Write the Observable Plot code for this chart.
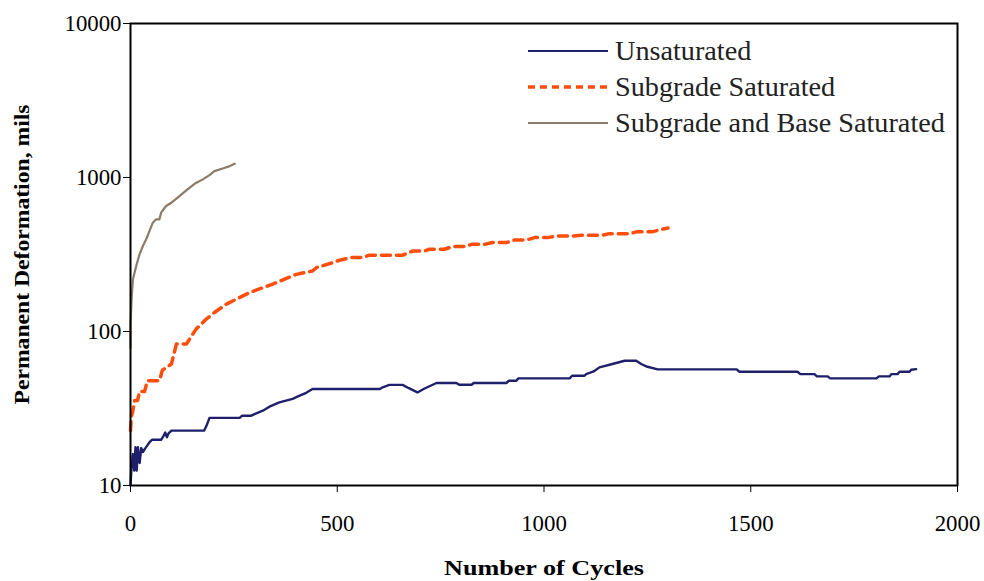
<!DOCTYPE html>
<html>
<head>
<meta charset="utf-8">
<script src="https://cdn.jsdelivr.net/npm/d3@7"></script>
<script src="https://cdn.jsdelivr.net/npm/@observablehq/plot@0.6"></script>
<style>
  html, body { margin: 0; padding: 0; background: #fff; }
  #wrap { position: relative; width: 984px; height: 581px; }
  #legend { position: absolute; left: 528px; top: 33px; font-family: "Liberation Serif", serif; font-size: 27px; color: #222; }
  #legend .row { display: flex; align-items: center; height: 36px; }
  #legend svg { margin-right: 7px; }
  #legend span { display: inline-block; transform-origin: left center; transform: scaleX(1.045); }
</style>
</head>
<body>
<div id="wrap"><div id="chart"></div><div id="legend"></div></div>
<script>
// ---- data ----
const seriesNames = ["Unsaturated", "Subgrade Saturated", "Subgrade and Base Saturated"];
const seriesColors = ["#1f1f6b", "#ff4d0a", "#8c7b68"];

const unsatCycles = [0,3,6,9,12,15,18,22,26,30,36,46,52,74,80,84,88,92,99,178,184,191,264,270,292,300,320,336,360,392,409,425,440,603,610,626,658,672,694,710,740,788,795,825,830,909,915,933,938,1062,1068,1098,1102,1120,1134,1170,1195,1223,1235,1250,1275,1466,1472,1613,1620,1654,1660,1686,1692,1804,1810,1836,1840,1855,1860,1884,1888,1900];
const unsatDef = [10,13.9,16,12.5,17.7,12.5,17.7,14,17.5,16.5,17.5,19.1,19.8,19.8,21,22.1,20.6,21.8,22.7,22.7,24.5,27.5,27.5,28.4,28.4,29.1,30.6,32.5,34.7,36.5,38.3,40,42.3,42.3,43.4,45,45,43,40.2,42.5,46.3,46.3,45.1,45.1,46.3,46.3,47.9,47.9,49.6,49.6,51.6,51.6,52.9,55,58.5,62,64.6,64.6,61.5,59,56.8,56.8,54.8,54.8,52.9,52.9,51.1,51.1,49.6,49.6,51.1,51.1,52.9,52.9,54.8,54.8,56.5,57];

const subCycles = [0,2,5,10,17,22,34,41,70,77,99,111,135,159,184,203,232,288,344,401,440,450,489,505,534,561,578,658,682,711,723,759,779,808,825,856,875,909,929,958,977,1008,1033,1069,1090,1139,1158,1207,1226,1263,1291,1300];
const subDef = [22.7,28,30,35.6,35.6,40.8,40.8,47.9,47.9,56,61.5,82.8,82.8,104,120.8,132.8,150.7,179,203,235,247,260,280,290,302,302,313,313,333,333,342,342,356,356,368,368,378,378,393,393,407,407,417,417,421,421,432,432,445,445,465,470];

const baseCycles = [0,0,3,6,14,22,30,38,46,54,62,70,74,86,99,114,135,155,175,191,203,223,240,252];
const baseDef = [78,112,170,219,267,318,359,397,450,509,535,535,591,653,686,739,824,910,972,1037,1100,1145,1186,1227];

const xTicks = [0, 500, 1000, 1500, 2000];
const yTicks = [10, 100, 1000, 10000];
const xLabel = "Number of Cycles";
const yLabel = "Permanent Deformation, mils";

// ---- build table ----
const toRows = (xs, ys, s) => xs.map((x, i) => ({cycles: x, def: ys[i], series: s}));
const unsat = toRows(unsatCycles, unsatDef, seriesNames[0]);
const sub = toRows(subCycles, subDef, seriesNames[1]);
const base = toRows(baseCycles, baseDef, seriesNames[2]);

const font = '"Liberation Serif", "Times New Roman", serif';

const chart = Plot.plot({
  width: 984,
  height: 581,
  marginLeft: 130,
  marginRight: 27,
  marginTop: 23,
  marginBottom: 96,
  style: {fontFamily: font, fontSize: "24px", color: "#000", background: "#fff"},
  x: {domain: [0, 2000]},
  y: {type: "log", domain: [10, 10000]},
  marks: [
    Plot.axisX({ticks: xTicks, tickSize: 7, tickPadding: 21, tickFormat: d => String(d), label: xLabel, labelAnchor: "center", labelOffset: 89, fontSize: 24}),
    Plot.axisY({ticks: yTicks, tickSize: 7, tickPadding: 2, tickFormat: d => String(d), label: yLabel, labelAnchor: "center", labelOffset: 116, fontSize: 24}),
    Plot.line(sub, {x: "cycles", y: "def", stroke: seriesColors[1], strokeWidth: 3.5, strokeDasharray: "9,6"}),
    Plot.line(base, {x: "cycles", y: "def", stroke: seriesColors[2], strokeWidth: 2.2}),
    Plot.line(unsat, {x: "cycles", y: "def", stroke: seriesColors[0], strokeWidth: 2.4}),
    Plot.frame({stroke: "#000", strokeWidth: 2})
  ]
});
document.getElementById("chart").appendChild(chart);

const svg = d3.select(chart);
// tick labels: narrow serif digits like the reference
svg.selectAll("g[aria-label='x-axis tick label'] text, g[aria-label='y-axis tick label'] text")
  .each(function() {
    const n = this.textContent.length;
    d3.select(this).attr("textLength", n * 11.4).attr("lengthAdjust", "spacingAndGlyphs");
  });
// axis titles: bold, no arrows
svg.selectAll("g[aria-label='x-axis label'] text")
  .text(xLabel).style("font-weight", "bold").style("font-size", "20px")
  .attr("textLength", 200).attr("lengthAdjust", "spacingAndGlyphs");
svg.selectAll("g[aria-label='y-axis label'] text")
  .text(yLabel).style("font-weight", "bold").style("font-size", "20px")
  .attr("textLength", 300).attr("lengthAdjust", "spacingAndGlyphs");

// legend
const legend = d3.select("#legend");
seriesNames.forEach((name, i) => {
  const row = legend.append("div").attr("class", "row");
  const s = row.append("svg").attr("width", 80).attr("height", 10);
  s.append("line").attr("x1", 0).attr("x2", 80).attr("y1", 5).attr("y2", 5)
    .attr("stroke", seriesColors[i])
    .attr("stroke-width", i === 1 ? 3.5 : 2.2)
    .attr("stroke-dasharray", i === 1 ? "7,5" : null);
  row.append("span").text(name);
});
</script>
</body>
</html>
